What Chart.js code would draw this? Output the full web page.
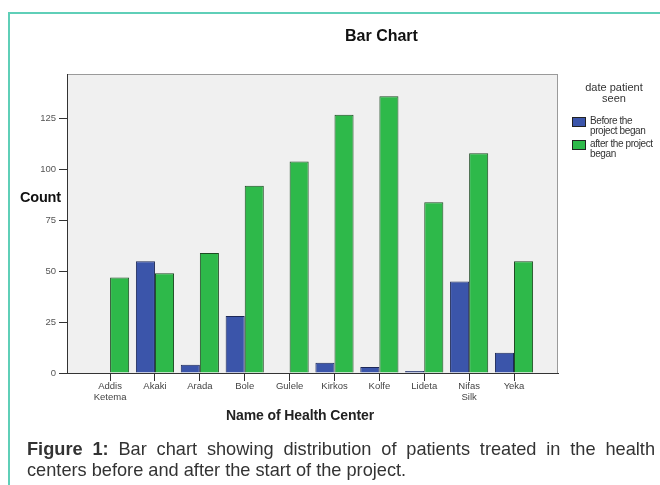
<!DOCTYPE html>
<html lang="en">
<head>
    <meta charset="UTF-8">
    <title>Bar Chart</title>
    <script src="https://cdn.jsdelivr.net/npm/chart.js"></script>
    <style>
        body {
            margin: 0;
            width: 660px;
            height: 485px;
            overflow: hidden;
            background: #fff;
            font-family: Arial, "Liberation Sans", sans-serif;
            position: relative;
        }
        .frame {
            position: absolute;
            left: 8px;
            top: 12px;
            width: 700px;
            height: 520px;
            border: 2px solid #5fcfb8;
        }
        canvas {
            position: absolute;
            left: 0;
            top: 0;
        }
        .txt {
            position: absolute;
            white-space: nowrap;
            font-weight: bold;
        }
        .legend {
            position: absolute;
            left: 568px;
            top: 82px;
            color: #333;
        }
        .legend .head {
            width: 92px;
            text-align: center;
            font-size: 11px;
            line-height: 11px;
            margin-bottom: 12px;
        }
        .legend .item {
            display: flex;
            align-items: flex-start;
            margin-bottom: 3px;
        }
        .legend .box {
            width: 12px;
            height: 8px;
            border: 1px solid #222;
            margin: 1px 4px 0 4px;
            flex: none;
        }
        .legend .lab {
            font-size: 10px;
            line-height: 10px;
            letter-spacing: -0.4px;
        }
        .caption {
            position: absolute;
            left: 27px;
            top: 439px;
            width: 628px;
            font-size: 18.2px;
            line-height: 21px;
            color: #333;
        }
        .caption .l1 {
            text-align: justify;
            text-align-last: justify;
        }
    </style>
</head>
<body>
    <div class="frame"></div>
    <canvas id="chart" width="660" height="485"></canvas>
    <div class="txt" style="left:345px; top:28px; font-size:16px; line-height:16px; color:#111;">Bar Chart</div>
    <div class="txt" style="left:20px; top:190px; font-size:14.5px; line-height:14px; color:#111; letter-spacing:-0.2px;">Count</div>
    <div class="txt" style="left:226px; top:408px; font-size:14px; line-height:14px; color:#222; letter-spacing:-0.1px;">Name of Health Center</div>
    <div class="legend" id="legend"></div>
    <div class="caption">
        <div class="l1"><b>Figure 1:</b> Bar chart showing distribution of patients treated in the health</div>
        <div>centers before and after the start of the project.</div>
    </div>

    <script>
        // data
        const centers = [['Addis', 'Ketema'], 'Akaki', 'Arada', 'Bole', 'Gulele', 'Kirkos', 'Kolfe', 'Lideta', ['Nifas', 'Silk'], 'Yeka'];
        const before = [0, 55, 4, 28, 0, 5, 3, 1, 45, 10];
        const after = [47, 49, 59, 92, 104, 127, 136, 84, 108, 55];
        const seriesNames = [['Before the', 'project began'], ['after the project', 'began']];
        const seriesColors = ['#3b55aa', '#2eb94a'];
        const seriesBorders = ['#1c2858', '#1d4a22'];
        const yTicks = [0, 25, 50, 75, 100, 125];

        // legend
        const legend = document.getElementById('legend');
        legend.innerHTML = '<div class="head">date patient<br>seen</div>' +
            seriesNames.map((n, i) =>
                '<div class="item"><div class="box" style="background:' + seriesColors[i] + '"></div>' +
                '<div class="lab">' + n.join('<br>') + '</div></div>').join('');

        // grey plot background with frame
        const plotBg = {
            id: 'plotBg',
            beforeDraw(chart) {
                const a = chart.chartArea;
                const ctx = chart.ctx;
                ctx.save();
                ctx.fillStyle = '#f0f0f0';
                ctx.fillRect(a.left, a.top, a.right - a.left, a.bottom - a.top);
                ctx.strokeStyle = '#9a9a9a';
                ctx.lineWidth = 1;
                ctx.strokeRect(a.left + 0.5, a.top + 0.5, a.right - a.left - 1, a.bottom - a.top);
                ctx.restore();
            }
        };

        const toPoints = arr => arr.map((v, i) => ({ x: i, y: v }));

        new Chart(document.getElementById('chart').getContext('2d'), {
            type: 'bar',
            data: {
                datasets: [{
                    label: seriesNames[0].join(' '),
                    data: toPoints(before),
                    backgroundColor: seriesColors[0],
                    borderColor: seriesBorders[0],
                    borderWidth: 1
                }, {
                    label: seriesNames[1].join(' '),
                    data: toPoints(after),
                    backgroundColor: seriesColors[1],
                    borderColor: seriesBorders[1],
                    borderWidth: 1
                }]
            },
            options: {
                responsive: false,
                animation: false,
                categoryPercentage: 0.85,
                barPercentage: 1,
                layout: {
                    padding: { left: 27, right: 102, top: 74, bottom: 72 }
                },
                plugins: {
                    legend: { display: false },
                    tooltip: { enabled: false }
                },
                scales: {
                    x: {
                        type: 'linear',
                        offset: false,
                        min: -0.96,
                        max: 9.98,
                        afterBuildTicks: s => { s.ticks = centers.map((c, i) => ({ value: i })); },
                        afterFit: s => { s.height = 40; },
                        grid: { offset: false, drawOnChartArea: false, tickLength: 8, color: '#333' },
                        border: { color: '#333', width: 1 },
                        ticks: {
                            padding: 0,
                            maxRotation: 0,
                            autoSkip: false,
                            color: '#444',
                            font: { family: 'Arial', size: 9.5, lineHeight: 1.15 },
                            callback: v => centers[v]
                        }
                    },
                    y: {
                        min: 0,
                        max: 147,
                        afterBuildTicks: s => { s.ticks = yTicks.map(v => ({ value: v })); },
                        afterFit: s => { s.width = 40; },
                        grid: { drawOnChartArea: false, tickLength: 8, color: '#333' },
                        border: { color: '#333', width: 1 },
                        ticks: {
                            padding: 3,
                            color: '#555',
                            font: { family: 'Arial', size: 9.5 }
                        }
                    }
                }
            },
            plugins: [plotBg]
        });
    </script>
</body>
</html>
